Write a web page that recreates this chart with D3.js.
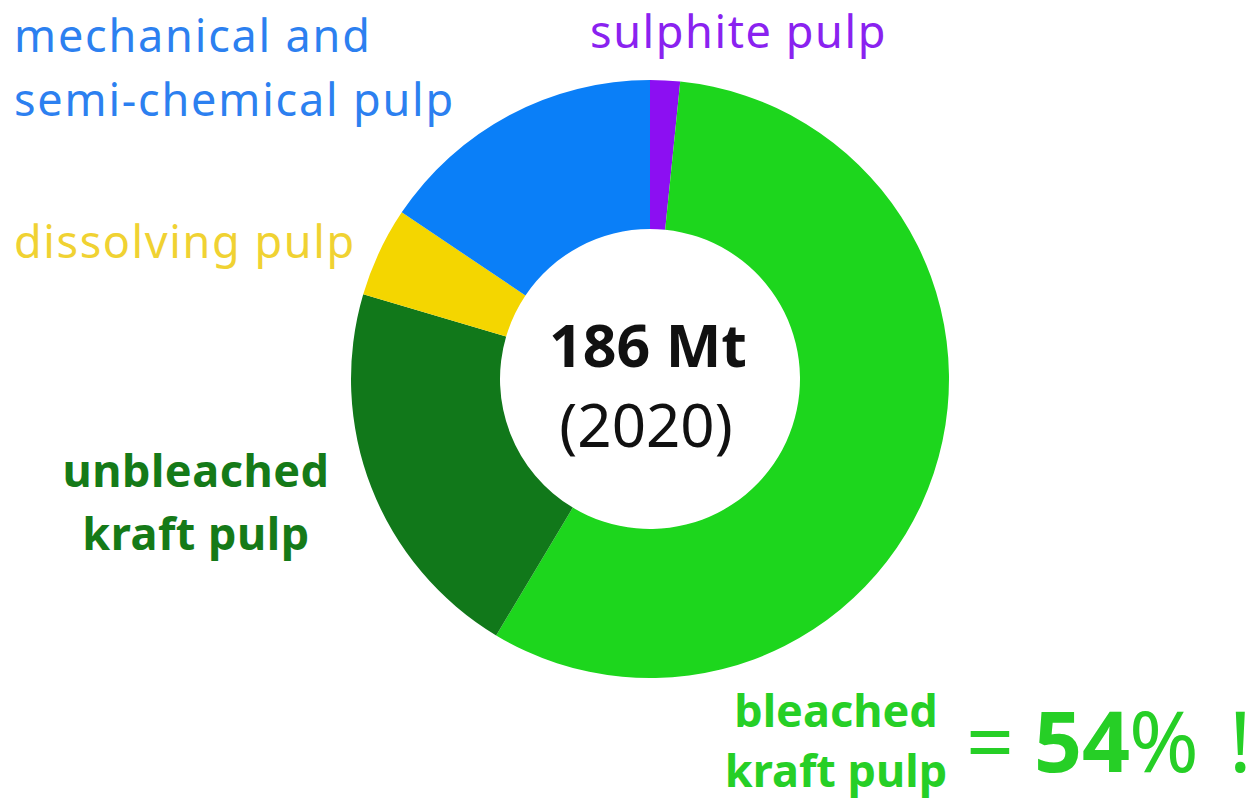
<!DOCTYPE html>
<html>
<head>
<meta charset="utf-8">
<script src="https://cdn.jsdelivr.net/npm/d3@7"></script>
<style>
  html, body { margin: 0; padding: 0; background: #fff; }
  svg text { font-family: "Noto Sans", sans-serif; }
</style>
</head>
<body>
<div id="chart"></div>
<script>
// Pulp production by grade (Mt, 2020), clockwise from 12 o'clock
const categories = ["sulphite pulp", "bleached kraft pulp", "unbleached kraft pulp", "dissolving pulp", "mechanical and semi-chemical pulp"];
const values = [3, 106, 39, 9, 29];
const colors = ["#8c0ff2", "#1dd61d", "#11781a", "#f4d600", "#0a7ff8"];
const totalLabel = "186 Mt";
const yearLabel = "(2020)";
const shareLabel = ["=", "54", "%", "!"];

const width = 1253;
const height = 802;

const svg = d3.select("#chart")
  .append("svg")
  .attr("width", width)
  .attr("height", height);

// donut
const cx = 650, cy = 379;
const outerR = 299, innerR = 150;

const pie = d3.pie().sort(null).value(d => d.value);
const arc = d3.arc().innerRadius(innerR).outerRadius(outerR);

const slices = categories.map((c, i) => ({ name: c, value: values[i], color: colors[i] }));

const g = svg.append("g").attr("transform", `translate(${cx},${cy})`);

g.selectAll("path")
  .data(pie(slices))
  .enter()
  .append("path")
  .attr("d", arc)
  .attr("fill", d => d.data.color);

// center text
g.append("text")
  .attr("x", -2).attr("y", -12)
  .attr("text-anchor", "middle")
  .attr("font-size", 59)
  .attr("font-weight", "bold")
  .attr("fill", "#111")
  .text(totalLabel);

g.append("text")
  .attr("x", -4).attr("y", 68)
  .attr("text-anchor", "middle")
  .attr("font-size", 60)
  .attr("fill", "#111")
  .text(yearLabel);

// labels
function label(lines, x, y, lineH, opts) {
  const t = svg.append("text")
    .attr("x", x).attr("y", y)
    .attr("font-size", opts.size)
    .attr("font-weight", opts.weight || "normal")
    .attr("letter-spacing", opts.spacing || 0)
    .attr("text-anchor", opts.anchor || "start")
    .attr("fill", opts.color);
  lines.forEach((l, i) => {
    t.append("tspan").attr("x", x).attr("y", y + i * lineH).text(l);
  });
}

label(["mechanical and", "semi-chemical pulp"], 14, 52, 64, { size: 45, spacing: 1.8, color: "#2c80f0" });
label(["sulphite pulp"], 590, 48, 0, { size: 45, spacing: 1.6, color: "#8a22f0" });
label(["dissolving pulp"], 14, 258, 0, { size: 45, spacing: 1.6, color: "#f0d232" });
label(["unbleached", "kraft pulp"], 196, 487, 63, { size: 45, spacing: 0.5, weight: "bold", color: "#157a18", anchor: "middle" });
label(["bleached", "kraft pulp"], 836, 727, 60, { size: 45, weight: "bold", color: "#26cf26", anchor: "middle" });

// "= 54% !"
const bigX = [966, 1034, 1129, 1229];
shareLabel.forEach((s, i) => {
  svg.append("text")
    .attr("x", bigX[i]).attr("y", 772)
    .attr("font-size", 84)
    .attr("font-weight", s === "54" ? "bold" : "normal")
    .attr("fill", "#26cf26")
    .text(s);
});
</script>
</body>
</html>
